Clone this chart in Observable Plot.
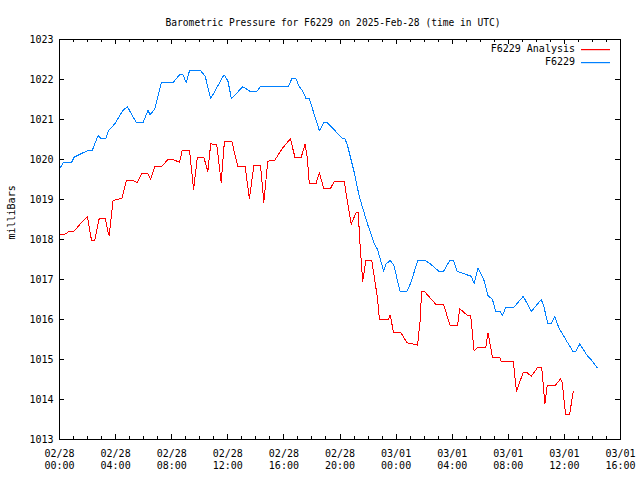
<!DOCTYPE html>
<html><head><meta charset="utf-8">
<script src="https://cdn.jsdelivr.net/npm/d3@7"></script>
<script src="https://cdn.jsdelivr.net/npm/@observablehq/plot@0.6"></script>
<style>html,body{margin:0;padding:0;background:#fff} svg{display:block}</style>
</head><body><div id="chart"></div>
<script>
const title = "Barometric Pressure for F6229 on 2025-Feb-28 (time in UTC)";
const yLabel = "milliBars";
const seriesNames = ["F6229 Analysis", "F6229"];
const seriesColors = ["#ff0000", "#0080ff"];
const startTime = "2025-02-28T00:00:00Z";
const endTime = "2025-03-01T16:00:00Z";
const yTicks = [1013, 1014, 1015, 1016, 1017, 1018, 1019, 1020, 1021, 1022, 1023];

// hours after 02/28 00:00 UTC
const stationHours = [0.02,0.26,0.85,1.05,1.57,1.99,2.33,2.75,2.99,3.30,3.51,3.94,4.53,4.84,5.48,5.96,6.31,6.46,6.78,7.26,8.09,8.56,8.80,9.04,9.27,10.06,10.39,10.78,11.73,12.01,12.26,13.07,13.56,14.09,14.33,16.32,16.56,16.85,17.10,17.34,17.58,17.81,18.53,18.84,19.10,20.19,20.36,20.55,21.02,21.37,21.97,22.44,22.68,23.11,23.27,23.58,23.84,24.29,24.77,25.05,25.55,26.05,26.48,27.07,27.38,27.83,28.09,28.36,29.20,29.37,29.56,29.84,30.25,30.55,30.87,31.10,31.41,31.58,31.81,32.36,33.07,33.64,34.35,34.54,34.82,35.07,35.30,35.61,36.16,36.63,36.80,37.10,37.58,37.99,38.34];
const stationValues = [1019.77,1019.92,1019.92,1020.06,1020.15,1020.22,1020.22,1020.60,1020.52,1020.52,1020.73,1020.89,1021.23,1021.32,1020.92,1020.92,1021.23,1021.12,1021.25,1021.92,1021.92,1022.12,1022.12,1021.92,1022.22,1022.22,1022.08,1021.52,1022.12,1021.96,1021.52,1021.82,1021.71,1021.71,1021.82,1021.82,1022.02,1022.02,1021.82,1021.71,1021.52,1021.52,1020.72,1020.92,1020.92,1020.52,1020.52,1020.33,1019.67,1019.08,1018.38,1017.90,1017.75,1017.21,1017.38,1017.48,1017.35,1016.70,1016.70,1016.92,1017.48,1017.48,1017.38,1017.20,1017.20,1017.48,1017.48,1017.20,1017.10,1017.08,1016.90,1017.29,1017.00,1016.60,1016.50,1016.21,1016.21,1016.10,1016.29,1016.29,1016.58,1016.20,1016.50,1016.32,1015.89,1015.89,1016.08,1015.79,1015.46,1015.19,1015.19,1015.39,1015.12,1014.96,1014.79];

const analysisHours = [0.02,0.38,0.73,1.05,1.33,1.99,2.28,2.51,2.83,3.27,3.47,3.54,3.82,4.13,4.46,4.77,5.25,5.53,5.84,6.31,6.50,6.78,7.26,7.74,8.09,8.56,8.75,9.27,9.56,9.70,9.82,10.30,10.58,10.78,11.21,11.53,11.76,12.28,12.72,13.24,13.54,13.86,14.33,14.57,14.85,15.32,15.92,16.46,16.80,17.22,17.51,17.67,17.81,18.29,18.53,18.84,19.31,19.59,20.31,20.55,20.80,21.14,21.30,21.44,21.62,21.85,22.26,22.68,22.81,23.44,23.58,23.82,24.34,24.77,25.53,25.73,25.81,26.05,26.83,27.38,27.85,28.38,28.54,29.09,29.32,29.56,29.80,30.39,30.55,30.87,31.39,31.51,32.36,32.58,33.07,33.31,33.64,34.11,34.38,34.61,34.78,35.37,35.73,35.85,36.08,36.37,36.63];
const analysisValues = [1018.11,1018.13,1018.21,1018.21,1018.33,1018.58,1017.98,1017.98,1018.52,1018.52,1018.18,1018.10,1018.98,1019.00,1019.04,1019.48,1019.48,1019.42,1019.64,1019.64,1019.50,1019.82,1019.82,1020.00,1020.00,1019.93,1020.23,1020.23,1019.25,1019.67,1020.04,1020.04,1019.70,1020.39,1020.38,1019.42,1020.46,1020.46,1019.82,1019.82,1019.02,1019.85,1019.85,1018.93,1019.96,1019.97,1020.29,1020.52,1020.04,1020.04,1020.39,1020.04,1019.40,1019.40,1019.67,1019.27,1019.27,1019.45,1019.44,1018.90,1018.38,1018.67,1018.67,1017.80,1016.96,1017.48,1017.48,1016.52,1016.00,1016.00,1016.11,1015.67,1015.67,1015.42,1015.36,1016.02,1016.69,1016.69,1016.38,1016.38,1015.85,1015.85,1016.27,1016.10,1016.10,1015.22,1015.29,1015.29,1015.67,1015.06,1015.06,1014.94,1014.94,1014.21,1014.68,1014.68,1014.58,1014.81,1014.81,1013.89,1014.36,1014.36,1014.52,1014.42,1013.63,1013.63,1014.19];

const t0 = new Date(startTime), t1 = new Date(endTime);
const toDate = h => new Date(+t0 + h * 3600e3);
const data = [
  ...analysisHours.map((h, i) => ({series: seriesNames[0], time: toDate(h), value: analysisValues[i]})),
  ...stationHours.map((h, i) => ({series: seriesNames[1], time: toDate(h), value: stationValues[i]}))
];
const minorTicks = d3.utcHour.range(t0, new Date(+t1 + 1));
const majorTicks = d3.utcHour.every(4).range(t0, new Date(+t1 + 1));

const W = 640, H = 480, mL = 59, mR = 20, mT = 39, mB = 41;
const fw = W - mL - mR, fh = H - mT - mB;

const chart = Plot.plot({
  width: W, height: H,
  marginLeft: mL, marginRight: mR, marginTop: mT, marginBottom: mB,
  style: {fontFamily: "DejaVu Sans Mono", fontSize: "10px", background: "#fff", color: "#000"},
  x: {type: "utc", domain: [t0, t1]},
  y: {domain: [1013, 1023]},
  color: {domain: seriesNames, range: seriesColors},
  marks: [
    Plot.ruleX(minorTicks, {insetTop: fh - 3, stroke: "#000"}),
    Plot.ruleX(minorTicks, {insetBottom: fh - 3, stroke: "#000"}),
    Plot.ruleX(majorTicks, {insetTop: fh - 5, stroke: "#000"}),
    Plot.ruleX(majorTicks, {insetBottom: fh - 5, stroke: "#000"}),
    Plot.ruleY(yTicks, {insetRight: fw - 5, stroke: "#000"}),
    Plot.ruleY(yTicks, {insetLeft: fw - 5, stroke: "#000"}),
    Plot.line(data, {x: "time", y: "value", z: "series", stroke: "series", strokeWidth: 1, curve: "linear"}),
    Plot.frame({stroke: "#000"}),
    Plot.axisX({ticks: majorTicks, tickSize: 0, tickPadding: 9, lineHeight: 1.2,
      tickFormat: d3.utcFormat("%m/%d\n%H:%M"), label: null}),
    Plot.axisY({ticks: yTicks, tickSize: 0, tickPadding: 6, label: null, tickFormat: d => String(d)}),
    Plot.text([title], {frameAnchor: "top", dy: -20, dx: -7, fontSize: 9.6, text: d => d}),
    Plot.text([yLabel], {frameAnchor: "left", dx: -48, rotate: -90, text: d => d})
  ]
});
chart.querySelectorAll("path, line").forEach(e => e.setAttribute("shape-rendering", "crispEdges"));

// legend (top-right inside frame)
const svg = d3.select(chart);
const lg = svg.append("g");
seriesNames.forEach((name, i) => {
  const cy = mT + 10 + i * 13;
  const xr = mL + fw - 10;
  lg.append("rect").attr("x", xr - 29).attr("y", cy).attr("width", 29).attr("height", 1.2)
    .attr("fill", seriesColors[i]).attr("stroke", "none");
  lg.append("text").attr("x", xr - 35).attr("y", cy).attr("dy", "0.32em")
    .attr("text-anchor", "end").attr("fill", "#000").text(name);
});
document.getElementById("chart").append(chart);
</script>
</body></html>
